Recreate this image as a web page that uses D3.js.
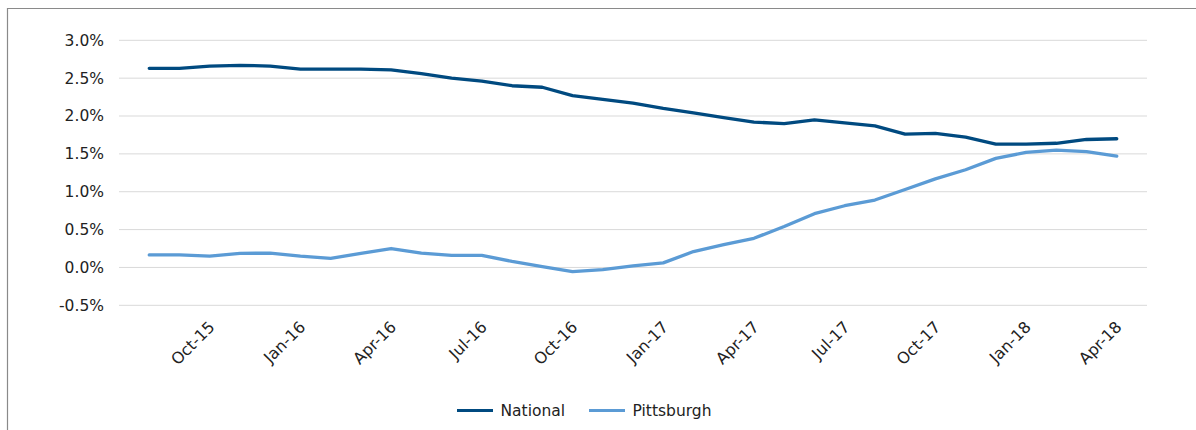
<!DOCTYPE html>
<html>
<head>
<meta charset="utf-8">
<script src="https://cdn.jsdelivr.net/npm/d3@7"></script>
<style>
  html, body { margin: 0; padding: 0; background: #fff; }
  svg { display: block; }
  text { font-family: "DejaVu Sans", sans-serif; fill: #222; }
</style>
</head>
<body>
<svg id="chart" width="1196" height="430"></svg>
<script>
const months = ["Aug-15","Sep-15","Oct-15","Nov-15","Dec-15","Jan-16","Feb-16","Mar-16","Apr-16","May-16","Jun-16","Jul-16",
  "Aug-16","Sep-16","Oct-16","Nov-16","Dec-16","Jan-17","Feb-17","Mar-17","Apr-17","May-17","Jun-17","Jul-17",
  "Aug-17","Sep-17","Oct-17","Nov-17","Dec-17","Jan-18","Feb-18","Mar-18","Apr-18"];
const national = [2.63,2.63,2.66,2.67,2.66,2.62,2.62,2.62,2.61,2.56,2.50,2.46,2.40,2.38,2.27,2.22,2.17,
  2.10,2.04,1.98,1.92,1.90,1.95,1.91,1.87,1.76,1.77,1.72,1.63,1.63,1.64,1.69,1.70];
const pittsburgh = [0.165,0.165,0.15,0.185,0.19,0.15,0.12,0.185,0.25,0.19,0.16,0.16,0.08,0.01,-0.055,-0.03,0.02,
  0.06,0.21,0.30,0.385,0.54,0.71,0.815,0.89,1.03,1.17,1.29,1.44,1.52,1.55,1.53,1.47];
const yTicks = [-0.5,0,0.5,1.0,1.5,2.0,2.5,3.0];
const xTickLabels = ["Oct-15","Jan-16","Apr-16","Jul-16","Oct-16","Jan-17","Apr-17","Jul-17","Oct-17","Jan-18","Apr-18"];
const seriesNames = ["National","Pittsburgh"];
const colors = ["#004a80","#5b9bd5"];

const svg = d3.select("#chart");

// outer frame
svg.append("path")
  .attr("d", "M7.5,430 L7.5,8.5 L1196,8.5")
  .attr("fill","none").attr("stroke","#8a8a8a").attr("stroke-width",1.2);

const x = d3.scalePoint().domain(months).range([119,1147]).padding(1);
const y = d3.scaleLinear().domain([-0.5,3.0]).range([305.3,40.3]);

// gridlines
svg.append("g").selectAll("line").data(yTicks).join("line")
  .attr("x1",119).attr("x2",1147)
  .attr("y1",d=>y(d)).attr("y2",d=>y(d))
  .attr("stroke","#d9d9d9").attr("stroke-width",1);

// y labels
const yAxis = d3.axisLeft(y).tickValues(yTicks).tickFormat(d=>d.toFixed(1)+"%").tickSize(0).tickPadding(0);
const gy = svg.append("g").attr("transform","translate(104,0)").call(yAxis);
gy.select(".domain").remove();
gy.selectAll("text").style("font-size","15.5px").style("font-family","DejaVu Sans, sans-serif").attr("fill","#222");

// x labels
const gx = svg.append("g");
gx.selectAll("text").data(xTickLabels).join("text")
  .attr("transform", d=>`translate(${x(d)+6},328) rotate(-45)`)
  .attr("text-anchor","end")
  .style("font-size","16px")
  .text(d=>d);

// lines
const series = [national, pittsburgh];
const line = d3.line().x((d,i)=>x(months[i])).y(d=>y(d));
svg.append("g").selectAll("path").data(series).join("path")
  .attr("d", d=>line(d))
  .attr("fill","none")
  .attr("stroke",(d,i)=>colors[i])
  .attr("stroke-width",3.3)
  .attr("stroke-linejoin","round")
  .attr("stroke-linecap","round");

// legend
const legendX = [457, 589];
const lg = svg.append("g").selectAll("g").data(seriesNames).join("g")
  .attr("transform",(d,i)=>`translate(${legendX[i]},410.5)`);
lg.append("line").attr("x1",0).attr("x2",36).attr("y1",0).attr("y2",0)
  .attr("stroke",(d,i)=>colors[i]).attr("stroke-width",3);
lg.append("text").attr("x",43.5).attr("y",5.5).style("font-size","15.5px").text(d=>d);
</script>
</body>
</html>
